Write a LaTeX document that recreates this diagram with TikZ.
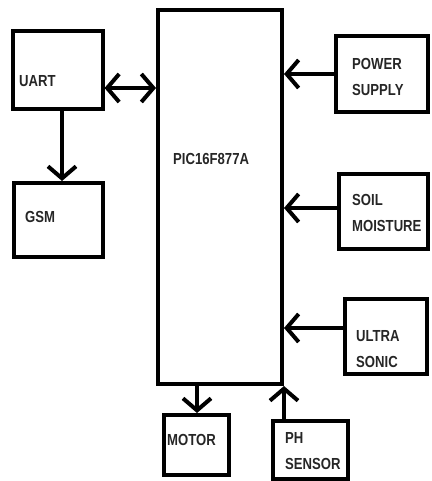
\documentclass[tikz,border=0pt]{standalone}
\usepackage{fontspec}
\setmainfont{Liberation Sans}[FakeStretch=0.82]
\usetikzlibrary{arrows.meta}
\begin{document}
\begin{tikzpicture}[x=1bp,y=-1bp,
  box/.style={draw=black, line width=4bp, rectangle, inner sep=0pt},
  lbl/.style={anchor=west, inner sep=0pt, align=left, text=black!85,
    font=\fontsize{16bp}{26bp}\selectfont\bfseries},
  conn/.style={line width=4bp},
  tip/.tip={Straight Barb[length=12bp,width=28bp,line width=4bp]}
]
\useasboundingbox (0,0) rectangle (431,481);
% boxes
\node[box, minimum width=89bp, minimum height=78bp] (uart) at (58,70.5) {};
\node[box, minimum width=89bp, minimum height=74bp] (gsm) at (58.5,220) {};
\node[box, minimum width=124bp, minimum height=374bp] (pic) at (220,197) {};
\node[box, minimum width=92bp, minimum height=76bp] (power) at (382,74) {};
\node[box, minimum width=89bp, minimum height=75bp] (soil) at (383.5,211.5) {};
\node[box, minimum width=82bp, minimum height=75bp] (ultra) at (386,336.5) {};
\node[box, minimum width=65bp, minimum height=60bp] (motor) at (196.5,445) {};
\node[box, minimum width=75bp, minimum height=58bp] (ph) at (310.5,450) {};
% labels
\node[lbl] (uartt) at (19,81) {UART};
\node[lbl] (gsmt) at (25,217) {GSM};
\node[lbl] (pict) at (173,159) {PIC16F877A};
\node[lbl] (powert) at (352,76.5) {POWER\\SUPPLY};
\node[lbl] (soilt) at (352,212.5) {SOIL\\MOISTURE};
\node[lbl] (ultrat) at (356,349) {ULTRA\\SONIC};
\node[lbl] (motort) at (167,440) {MOTOR};
\node[lbl] (pht) at (285,451) {PH\\SENSOR};
% connectors
\draw[conn, tip-tip] (uart.east |- 0,88) -- (pic.west |- 0,88);
\draw[conn, -tip] (uart.south -| 62,0) -- (gsm.north -| 62,0);
\draw[conn, -tip] (power.west) -- (power.west -| pic.east);
\draw[conn, -tip] (soil.west |- 0,208) -- (pic.east |- 0,208);
\draw[conn, -tip] (ultra.west |- 0,328) -- (pic.east |- 0,328);
\draw[conn, -tip] (pic.south -| 197,0) -- (motor.north -| 197,0);
\draw[conn, -tip] (ph.north -| pic.east) -- (pic.south east);
\end{tikzpicture}
\end{document}
